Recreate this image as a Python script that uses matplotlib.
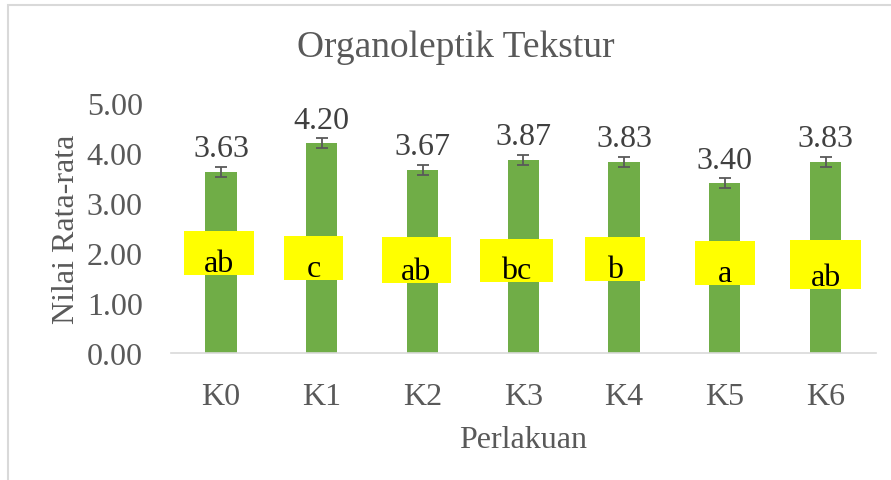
import matplotlib
matplotlib.use("Agg")
import matplotlib.pyplot as plt
from matplotlib.patches import Rectangle
import numpy as np

# ---- data ----
categories = ["K0", "K1", "K2", "K3", "K4", "K5", "K6"]
values = [3.63, 4.20, 3.67, 3.87, 3.83, 3.40, 3.83]
errors = [0.10, 0.10, 0.10, 0.10, 0.10, 0.10, 0.10]
letters = ["ab", "c", "ab", "bc", "b", "a", "ab"]
y_ticks = [0, 1, 2, 3, 4, 5]

# ---- layout of the yellow letter boxes (category offset, width, bottom, top) ----
box_dx = [-0.02, -0.08, -0.06, -0.07, -0.09, 0.0, 0.0]
box_w = [0.70, 0.59, 0.68, 0.72, 0.59, 0.59, 0.70]
box_lo = [1.56, 1.46, 1.40, 1.42, 1.44, 1.36, 1.28]
box_hi = [2.44, 2.34, 2.32, 2.28, 2.32, 2.24, 2.26]

plt.rcParams['font.family'] = ['Liberation Serif', 'DejaVu Serif']
gray = "#595959"
FS = 23

fig = plt.figure(figsize=(8.91, 4.81), dpi=100)
W, H = 891, 481
ax = fig.add_axes([170.6 / W, (H - 354) / H, (876 - 170.6) / W, 250 / H])

x = np.arange(len(categories))
ax.bar(x, values, width=0.31, color="#70AD47", zorder=2)
ax.errorbar(x, values, yerr=errors, fmt="none", ecolor=gray, elinewidth=1.3,
            capsize=4, capthick=1.3, zorder=3)

for xi, v in zip(x, values):
    ax.annotate(f"{v:.2f}", (xi, v), xytext=(0, 11), textcoords="offset points",
                ha="center", va="baseline", fontsize=FS, color="#404040")

for xi, l, dx, w, lo, hi in zip(x, letters, box_dx, box_w, box_lo, box_hi):
    ax.add_patch(Rectangle((xi + dx - w / 2, lo), w, hi - lo, facecolor="#FFFF00",
                           edgecolor="none", zorder=4))
    ax.text(xi + dx, lo + 0.08, l, ha="center", va="baseline", fontsize=FS,
            color="black", zorder=5)

ax.set_xlim(-0.5, len(categories) - 0.5)
ax.set_ylim(0, 5)
ax.set_yticks(y_ticks)
ax.set_yticklabels([f"{t:.2f}" for t in y_ticks])
ax.set_xticks(x)
ax.set_xticklabels(categories)
ax.tick_params(axis="both", length=0, labelsize=FS, labelcolor=gray)
ax.tick_params(axis="y", pad=20)
ax.tick_params(axis="x", pad=21)
for s in ["top", "right", "left"]:
    ax.spines[s].set_visible(False)
ax.spines["bottom"].set_color("#D9D9D9")
ax.spines["bottom"].set_linewidth(1.2)

ax.set_ylabel("Nilai Rata-rata", fontsize=FS, color=gray, labelpad=4)
ax.set_xlabel("Perlakuan", fontsize=FS, color=gray, labelpad=10)
fig.text(456 / W, 1 - 48 / H, "Organoleptik Tekstur", ha="center", va="center",
         fontsize=27, color=gray)

# outer border
fig.add_artist(Rectangle((8 / W, -0.1), 1.0, (H - 6) / H + 0.1, transform=fig.transFigure,
                         facecolor="none", edgecolor="#D9D9D9", linewidth=1.5))

fig.savefig("out.png", dpi=100)
